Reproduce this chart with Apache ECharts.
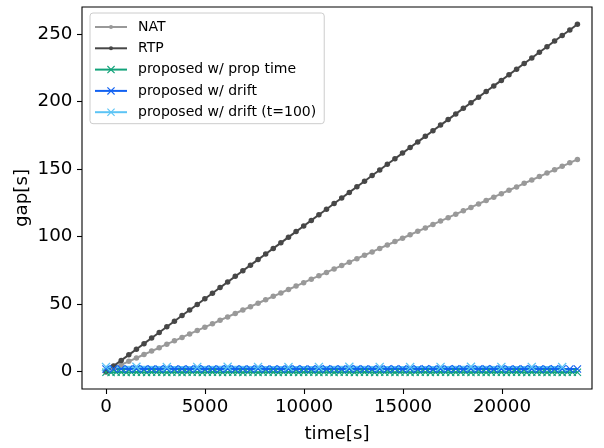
<!DOCTYPE html>
<html>
<head>
<meta charset="utf-8">
<script src="https://cdn.jsdelivr.net/npm/echarts@6/dist/echarts.min.js"></script>
<style>
  html, body { margin: 0; padding: 0; background: #fff; }
  #main { width: 604px; height: 448px; }
</style>
</head>
<body>
<div id="main"></div>
<script>
// time axis for NAT / RTP / drift (every 384 s)
var time384 = [0,384,768,1152,1536,1920,2304,2688,3072,3456,3840,4224,4608,4992,5376,5760,6144,6528,6912,7296,7680,8064,8448,8832,9216,9600,9984,10368,10752,11136,11520,11904,12288,12672,13056,13440,13824,14208,14592,14976,15360,15744,16128,16512,16896,17280,17664,18048,18432,18816,19200,19584,19968,20352,20736,21120,21504,21888,22272,22656,23040,23424,23808];
// time axis for prop time (every 256 s)
var time256 = [0,256,512,768,1024,1280,1536,1792,2048,2304,2560,2816,3072,3328,3584,3840,4096,4352,4608,4864,5120,5376,5632,5888,6144,6400,6656,6912,7168,7424,7680,7936,8192,8448,8704,8960,9216,9472,9728,9984,10240,10496,10752,11008,11264,11520,11776,12032,12288,12544,12800,13056,13312,13568,13824,14080,14336,14592,14848,15104,15360,15616,15872,16128,16384,16640,16896,17152,17408,17664,17920,18176,18432,18688,18944,19200,19456,19712,19968,20224,20480,20736,20992,21248,21504,21760,22016,22272,22528,22784,23040,23296,23552,23808];
// time axis for drift t=100
var time1536 = [0,1536,3072,4608,6144,7680,9216,10752,12288,13824,15360,16896,18432,19968,21504,23040];

var natGap = [0,2.5,5.1,7.6,10.1,12.7,15.2,17.7,20.3,22.8,25.3,27.9,30.4,32.9,35.4,38.0,40.5,43.0,45.6,48.1,50.6,53.2,55.7,58.2,60.8,63.3,65.8,68.4,70.9,73.4,76.0,78.5,81.0,83.6,86.1,88.6,91.2,93.7,96.2,98.7,101.3,103.8,106.3,108.9,111.4,113.9,116.5,119.0,121.5,124.1,126.6,129.1,131.7,134.2,136.7,139.3,141.8,144.3,146.9,149.4,151.9,154.5,157.0];
var rtpGap = [0,4.1,8.3,12.4,16.6,20.7,24.9,29.0,33.2,37.3,41.5,45.6,49.7,53.9,58.0,62.2,66.3,70.5,74.6,78.8,82.9,87.0,91.2,95.3,99.5,103.6,107.8,111.9,116.1,120.2,124.4,128.5,132.6,136.8,140.9,145.1,149.2,153.4,157.5,161.7,165.8,170.0,174.1,178.2,182.4,186.5,190.7,194.8,199.0,203.1,207.3,211.4,215.5,219.7,223.8,228.0,232.1,236.3,240.4,244.6,248.7,252.8,257.0];
var propGap = [-0.5,-0.6,-0.4,-0.5,-0.6,-0.5,-0.4,-0.5,-0.6,-0.5,-0.5,-0.4,-0.6,-0.5,-0.5,-0.6,-0.4,-0.5,-0.5,-0.6,-0.5,-0.4,-0.5,-0.6,-0.5,-0.5,-0.4,-0.6,-0.5,-0.5,-0.6,-0.4,-0.5,-0.5,-0.6,-0.5,-0.4,-0.5,-0.6,-0.5,-0.5,-0.4,-0.6,-0.5,-0.5,-0.6,-0.4,-0.5,-0.5,-0.6,-0.5,-0.4,-0.5,-0.6,-0.5,-0.5,-0.4,-0.6,-0.5,-0.5,-0.6,-0.4,-0.5,-0.5,-0.6,-0.5,-0.4,-0.5,-0.6,-0.5,-0.5,-0.4,-0.6,-0.5,-0.5,-0.6,-0.4,-0.5,-0.5,-0.6,-0.5,-0.4,-0.5,-0.6,-0.5,-0.5,-0.4,-0.6,-0.5,-0.5,-0.6,-0.4,-0.5,-0.5];
var driftGap = [2.0,2.1,1.9,2.0,2.1,2.0,1.9,2.0,2.1,2.0,1.9,2.0,2.1,2.0,2.0,1.9,2.1,2.0,2.0,1.9,2.1,2.0,2.0,1.9,2.0,2.1,2.0,1.9,2.0,2.1,2.0,2.0,1.9,2.1,2.0,2.0,1.9,2.0,2.1,2.0,1.9,2.0,2.1,2.0,2.0,1.9,2.1,2.0,2.0,1.9,2.1,2.0,2.0,1.9,2.0,2.1,2.0,1.9,2.0,2.1,2.0,2.0,1.9];
var drift100Gap = [3.5,3.6,3.4,3.5,3.6,3.5,3.4,3.5,3.6,3.5,3.4,3.5,3.6,3.5,3.5,3.4];

var xTicks = [0,5000,10000,15000,20000];
var yTicks = [0,50,100,150,200,250];

var seriesNames = ['NAT','RTP','proposed w/ prop time','proposed w/ drift','proposed w/ drift (t=100)'];
var seriesColors = ['#999999','#474747','#12a37a','#1262f2','#5cc4f5'];

// filled "x" marker
var xMark = 'path://M0,1L1,0L5,4L9,0L10,1L6,5L10,9L9,10L5,6L1,10L0,9L4,5Z';
// small dot inside a bigger box, so legend and plot keep the dot small
var dotMark = 'path://M0,0M16,16M4,8A4,4 0 1,0 12,8A4,4 0 1,0 4,8Z';
var FONT = 'DejaVu Sans';

function pairs(xs, ys){
  var out = [];
  for (var i = 0; i < xs.length; i++) out.push([xs[i], ys[i]]);
  return out;
}

function lineSeries(idx, xs, ys, symbol, size){
  return {
    name: seriesNames[idx],
    type: 'line',
    data: pairs(xs, ys),
    symbol: symbol,
    symbolSize: size,
    showSymbol: true,
    showAllSymbol: true,
    animation: false,
    lineStyle: { color: seriesColors[idx], width: 2 },
    itemStyle: { color: seriesColors[idx] },
    emphasis: { disabled: true }
  };
}

var chart = echarts.init(document.getElementById('main'), null, {renderer: 'canvas'});

chart.setOption({
  animation: false,
  grid: {
    left: 82, top: 7, width: 510, height: 385,
    show: true, borderColor: '#000', borderWidth: 1.1,
    containLabel: false
  },
  legend: {
    orient: 'vertical',
    left: 90, top: 13,
    data: seriesNames,
    itemWidth: 32, itemHeight: 10, itemGap: 7.3,
    padding: [7, 8, 4.5, 4],
    backgroundColor: 'rgba(255,255,255,0.85)',
    borderColor: '#cccccc', borderWidth: 1, borderRadius: 3,
    textStyle: { fontFamily: FONT, fontSize: 14, color: '#000', padding: [0, 0, 0, 6] }
  },
  xAxis: {
    type: 'value',
    min: -1212, max: 24545,
    name: 'time[s]', nameLocation: 'middle', nameGap: 36, nameMoveOverlap: false,
    nameTextStyle: { fontFamily: FONT, fontSize: 18.3, color: '#000' },
    axisLine: { show: false, onZero: false },
    axisTick: { show: true, length: 5, customValues: xTicks, lineStyle: { color: '#000', width: 1.1 } },
    axisLabel: { customValues: xTicks, margin: 9, fontFamily: FONT, fontSize: 18.3, color: '#000',
      formatter: function(v){ return String(v); } },
    splitLine: { show: false }
  },
  yAxis: {
    type: 'value',
    min: -12.85, max: 269.8,
    name: 'gap[s]', nameLocation: 'middle', nameGap: 51, nameRotate: 90, nameMoveOverlap: false,
    nameTextStyle: { fontFamily: FONT, fontSize: 18.3, color: '#000' },
    axisLine: { show: false, onZero: false },
    axisTick: { show: true, length: 5, customValues: yTicks, lineStyle: { color: '#000', width: 1.1 } },
    axisLabel: { customValues: yTicks, margin: 9.5, fontFamily: FONT, fontSize: 18.3, color: '#000',
      formatter: function(v){ return String(v); } },
    splitLine: { show: false }
  },
  series: [
    lineSeries(0, time384, natGap, dotMark, 11),
    lineSeries(1, time384, rtpGap, dotMark, 11),
    lineSeries(2, time256, propGap, xMark, 8),
    lineSeries(3, time384, driftGap, xMark, 8),
    lineSeries(4, time1536, drift100Gap, xMark, 9)
  ]
});
</script>
</body>
</html>
